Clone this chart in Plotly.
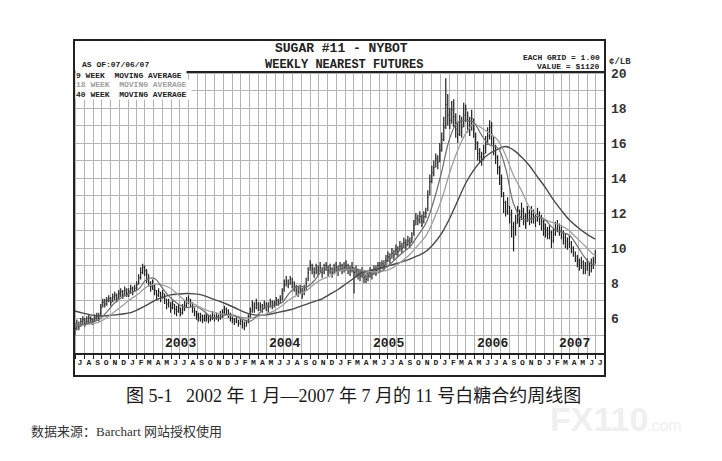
import pandas as pd
import plotly.graph_objects as go

# weekly bars of sugar #11 nearest futures, first week ends 2002-06-28
FIRST_WEEK = "2002-06-28"
high = [
    5.7, 5.9, 5.8, 6.0, 6.1, 6.0, 6.1, 6.2, 6.1, 6.0,
    6.2, 6.3, 6.3, 6.8, 7.1, 7.1, 7.2, 7.3, 7.2, 7.4,
    7.5, 7.4, 7.6, 7.7, 7.6, 7.8, 7.7, 7.7, 7.9, 7.8,
    7.9, 8.1, 8.5, 8.9, 9.1, 9.0, 8.8, 8.5, 8.1, 8.2,
    7.9, 7.6, 7.7, 7.5, 7.6, 7.4, 7.1, 7.1, 6.9, 7.0,
    6.8, 6.7, 6.8, 6.6, 6.8, 7.0, 7.2, 7.3, 7.1, 6.9,
    6.6, 6.4, 6.3, 6.3, 6.2, 6.2, 6.3, 6.2, 6.2, 6.4,
    6.2, 6.3, 6.2, 6.4, 6.5, 6.7, 6.6, 6.5, 6.3, 6.1,
    6.0, 6.1, 5.9, 6.0, 5.9, 5.8, 5.9, 6.2, 6.6, 7.0,
    6.9, 7.1, 6.9, 6.9, 6.8, 7.0, 6.9, 6.9, 7.1, 7.0,
    7.0, 7.2, 7.1, 7.3, 7.7, 8.2, 8.4, 8.2, 8.4, 8.3,
    8.1, 7.9, 7.8, 7.9, 7.7, 7.9, 8.3, 8.9, 9.3, 9.1,
    8.9, 9.1, 9.0, 9.2, 8.9, 9.1, 9.2, 9.0, 9.1, 8.9,
    9.1, 9.2, 9.0, 9.2, 9.1, 9.2, 9.3, 9.1, 9.0, 9.2,
    8.9, 9.0, 8.8, 8.7, 8.9, 8.6, 8.5, 8.7, 8.9, 8.8,
    9.0, 9.0, 9.2, 9.2, 9.3, 9.3, 9.6, 9.8, 9.7, 10.0,
    9.9, 10.2, 10.1, 10.4, 10.3, 10.6, 10.5, 10.7, 10.6, 10.9,
    11.6, 12.0, 11.9, 12.1, 11.9, 12.1, 12.3, 13.3, 14.2, 14.7,
    15.0, 15.4, 15.3, 16.0, 16.6, 17.5, 19.7, 18.8, 18.0, 18.4,
    18.5, 17.7, 17.2, 17.6, 17.5, 18.3, 18.2, 17.8, 17.5, 17.9,
    17.4, 16.6, 16.1, 15.7, 15.5, 15.9, 16.4, 16.9, 17.3, 17.2,
    16.4, 15.9, 15.3, 14.7, 14.2, 13.2, 12.7, 12.9, 12.4, 12.2,
    11.5, 11.9, 12.4, 12.2, 12.6, 12.3, 12.0, 12.4, 12.2, 12.4,
    12.2, 12.0, 12.3, 12.1, 11.9, 11.6, 11.4, 11.2, 11.3, 11.0,
    11.1, 11.5, 11.6, 11.4, 11.3, 11.0, 10.8, 10.6, 10.7, 10.4,
    10.1, 9.8, 9.6, 9.4, 9.5, 9.3, 9.2, 9.4, 9.2, 9.4, 9.5, 9.9,
]
low = [
    5.0, 5.3, 5.3, 5.5, 5.6, 5.5, 5.6, 5.7, 5.7, 5.6,
    5.8, 5.9, 5.8, 6.1, 6.6, 6.6, 6.7, 6.9, 6.7, 6.9,
    7.0, 6.9, 7.1, 7.2, 7.1, 7.3, 7.2, 7.2, 7.4, 7.3,
    7.5, 7.6, 7.9, 8.2, 8.5, 8.4, 8.0, 7.8, 7.5, 7.6,
    7.3, 7.0, 7.2, 6.9, 7.1, 6.8, 6.5, 6.6, 6.3, 6.5,
    6.2, 6.1, 6.3, 6.1, 6.2, 6.4, 6.6, 6.8, 6.6, 6.3,
    6.1, 5.9, 5.8, 5.8, 5.7, 5.8, 5.8, 5.7, 5.8, 5.9,
    5.8, 5.9, 5.8, 5.9, 6.0, 6.2, 6.2, 6.0, 5.8, 5.7,
    5.6, 5.7, 5.5, 5.6, 5.4, 5.3, 5.5, 5.7, 6.0, 6.3,
    6.3, 6.5, 6.4, 6.4, 6.3, 6.5, 6.4, 6.3, 6.6, 6.5,
    6.6, 6.7, 6.7, 6.8, 7.0, 7.5, 7.8, 7.7, 7.9, 7.7,
    7.5, 7.3, 7.2, 7.4, 7.1, 7.3, 7.6, 8.1, 8.7, 8.5,
    8.3, 8.5, 8.4, 8.6, 8.3, 8.5, 8.7, 8.4, 8.5, 8.3,
    8.5, 8.6, 8.4, 8.7, 8.5, 8.6, 8.7, 8.5, 8.4, 8.6,
    7.4, 8.4, 8.2, 8.1, 8.3, 8.0, 8.0, 8.1, 8.3, 8.2,
    8.5, 8.4, 8.7, 8.6, 8.8, 8.7, 9.0, 9.2, 9.1, 9.4,
    9.3, 9.6, 9.5, 9.8, 9.7, 10.0, 9.9, 10.1, 10.0, 10.3,
    10.7, 11.3, 11.3, 11.4, 11.2, 11.4, 11.7, 12.1, 13.0, 13.7,
    14.1, 14.6, 14.5, 14.9, 15.5, 16.1, 16.8, 17.0, 16.8, 17.1,
    16.9, 16.3, 16.0, 16.4, 16.3, 16.9, 17.2, 16.6, 16.4, 16.7,
    16.3, 15.6, 15.0, 14.9, 14.7, 15.0, 15.4, 15.9, 16.2, 15.9,
    15.3, 14.8, 14.2, 13.6, 12.9, 12.0, 11.8, 11.9, 11.4, 10.6,
    9.8, 10.7, 11.4, 11.2, 11.6, 11.3, 11.1, 11.5, 11.3, 11.4,
    11.4, 11.2, 11.5, 11.3, 11.0, 10.7, 10.6, 10.5, 10.5, 10.0,
    10.3, 10.7, 10.9, 10.7, 10.5, 10.2, 10.0, 9.9, 10.0, 9.7,
    9.5, 9.2, 8.9, 8.7, 8.8, 8.5, 8.5, 8.7, 8.4, 8.6, 8.8, 9.1,
]
close = [
    5.4, 5.6, 5.5, 5.8, 5.9, 5.7, 5.8, 6.0, 5.9, 5.8,
    6.0, 6.1, 6.0, 6.6, 6.9, 6.8, 7.0, 7.1, 6.9, 7.2,
    7.3, 7.1, 7.4, 7.5, 7.3, 7.6, 7.4, 7.5, 7.7, 7.5,
    7.7, 7.9, 8.3, 8.6, 8.9, 8.7, 8.5, 8.0, 7.8, 7.9,
    7.6, 7.3, 7.5, 7.2, 7.4, 7.1, 6.8, 6.9, 6.6, 6.8,
    6.5, 6.4, 6.6, 6.3, 6.5, 6.7, 6.9, 7.1, 6.9, 6.6,
    6.4, 6.2, 6.0, 6.1, 5.9, 6.0, 6.1, 5.9, 6.0, 6.2,
    6.0, 6.1, 6.0, 6.2, 6.3, 6.5, 6.4, 6.3, 6.0, 5.9,
    5.8, 5.9, 5.7, 5.8, 5.6, 5.5, 5.7, 6.0, 6.4, 6.7,
    6.6, 6.8, 6.6, 6.7, 6.5, 6.8, 6.7, 6.6, 6.9, 6.7,
    6.8, 7.0, 6.9, 7.1, 7.4, 7.9, 8.1, 7.9, 8.2, 8.0,
    7.8, 7.6, 7.5, 7.7, 7.4, 7.6, 8.0, 8.6, 9.0, 8.8,
    8.6, 8.8, 8.7, 8.9, 8.6, 8.8, 9.0, 8.7, 8.8, 8.6,
    8.8, 8.9, 8.7, 9.0, 8.8, 8.9, 9.0, 8.8, 8.7, 8.9,
    8.6, 8.7, 8.5, 8.4, 8.6, 8.3, 8.2, 8.4, 8.6, 8.5,
    8.8, 8.7, 9.0, 8.9, 9.1, 9.0, 9.3, 9.5, 9.4, 9.7,
    9.6, 9.9, 9.8, 10.1, 10.0, 10.3, 10.2, 10.4, 10.3, 10.6,
    11.3, 11.7, 11.6, 11.8, 11.5, 11.8, 12.0, 12.9, 13.8, 14.3,
    14.6, 15.1, 14.9, 15.6, 16.2, 16.9, 18.2, 17.6, 17.3, 17.9,
    17.5, 16.8, 16.5, 17.2, 16.9, 17.6, 17.9, 17.3, 17.0, 17.4,
    16.8, 16.0, 15.4, 15.2, 15.0, 15.4, 15.9, 16.4, 16.9, 16.5,
    15.8, 15.2, 14.6, 14.0, 13.4, 12.6, 12.1, 12.4, 11.9, 11.2,
    10.6, 11.4, 11.9, 11.6, 12.1, 11.8, 11.5, 12.0, 11.7, 11.9,
    11.8, 11.6, 11.9, 11.7, 11.5, 11.1, 11.0, 10.8, 10.9, 10.4,
    10.8, 11.1, 11.3, 11.0, 10.9, 10.6, 10.4, 10.2, 10.3, 10.0,
    9.8, 9.5, 9.3, 9.0, 9.2, 8.9, 8.8, 9.1, 8.7, 9.0, 9.2, 9.6,
]

# moving average lines every 4 weeks (week index)
ma_weeks = list(range(0, 261, 4)) + [261]
ma9 = [
    5.6, 5.62, 5.73, 5.91, 6.34, 6.87, 7.2, 7.42, 7.66, 8.2,
    8.26, 7.69, 7.16, 6.79, 6.59, 6.67, 6.46, 6.07, 6.02, 6.19,
    6.16, 5.93, 5.82, 6.21, 6.64, 6.7, 6.9, 7.48, 7.82, 7.76,
    8.13, 8.67, 8.77, 8.77, 8.83, 8.82, 8.69, 8.48, 8.57, 8.88,
    9.28, 9.7, 10.07, 10.71, 11.4, 12.7, 14.38, 16.27, 17.21, 17.29,
    17.18, 16.44, 15.89, 15.74, 14.57, 12.53, 11.69, 11.62, 11.81, 11.58,
    11.12, 10.91, 10.73, 10.11, 9.42, 9.02, 9.06,
]
ma18 = [
    5.6, 5.6, 5.67, 5.76, 6.02, 6.37, 6.72, 7.08, 7.39, 7.78,
    7.93, 7.88, 7.70, 7.31, 6.94, 6.78, 6.55, 6.36, 6.27, 6.18,
    6.10, 6.04, 5.99, 6.10, 6.24, 6.41, 6.72, 7.08, 7.34, 7.55,
    7.93, 8.22, 8.40, 8.65, 8.79, 8.80, 8.75, 8.65, 8.65, 8.71,
    8.91, 9.25, 9.63, 10.15, 10.69, 11.63, 12.8, 14.32, 15.59, 16.54,
    17.08, 16.86, 16.55, 16.18, 15.3, 14.15, 13.28, 12.33, 11.86, 11.61,
    11.44, 11.27, 10.98, 10.54, 10.1, 9.64, 9.6,
]
ma40 = [
    6.4, 6.28, 6.18, 6.12, 6.13, 6.18, 6.23, 6.31, 6.5, 6.73,
    7.0, 7.18, 7.32, 7.37, 7.4, 7.38, 7.31, 7.14, 6.98, 6.8,
    6.6, 6.38, 6.22, 6.16, 6.18, 6.27, 6.37, 6.47, 6.62, 6.78,
    6.94, 7.1, 7.37, 7.63, 7.96, 8.28, 8.6, 8.71, 8.81, 8.94,
    9.07, 9.21, 9.37, 9.56, 9.8, 10.24, 10.85, 11.7, 12.7, 13.7,
    14.45, 15.02, 15.4, 15.64, 15.8, 15.6, 15.2, 14.7, 14.07, 13.45,
    12.75, 12.15, 11.6, 11.2, 10.85, 10.57, 10.52,
]

MONTH_LETTERS = "JFMAMJJASOND"
years = ["2003", "2004", "2005", "2006", "2007"]
price_ticks = [6, 8, 10, 12, 14, 16, 18, 20]
x_start, x_end = "2002-06-25", "2007-08-02"

weeks = pd.date_range(FIRST_WEEK, periods=len(close), freq="7D")
ma_dates = [weeks[i] for i in ma_weeks]

# bar segments (high-low line + close tick on the right)
bx, by, cx, cy = [], [], [], []
for d, h, l, c in zip(weeks, high, low, close):
    bx += [d, d, None]
    by += [l, h, None]
    cx += [d, d + pd.Timedelta(days=3), None]
    cy += [c, c, None]

# pixel helpers for things outside the plot area (plot: x 66-597, y 64-345)
def px_x(x):
    return (x - 66) / 531

def px_y(y):
    return (345 - y) / 281

MONO = "Liberation Mono, DejaVu Sans Mono, monospace"
INK = "#222222"

fig = go.Figure()
fig.add_trace(go.Scatter(x=bx, y=by, mode="lines", line=dict(color=INK, width=1.2),
                         hoverinfo="skip", showlegend=False))
fig.add_trace(go.Scatter(x=cx, y=cy, mode="lines", line=dict(color=INK, width=1),
                         hoverinfo="skip", showlegend=False))
fig.add_trace(go.Scatter(x=ma_dates, y=ma40, mode="lines", line=dict(color="#4a4a4a", width=1.4, shape="spline"),
                         name="40 WEEK MOVING AVERAGE", showlegend=False))
fig.add_trace(go.Scatter(x=ma_dates, y=ma18, mode="lines", line=dict(color="#a0a0a0", width=1.3, shape="spline"),
                         name="18 WEEK MOVING AVERAGE", showlegend=False))
fig.add_trace(go.Scatter(x=ma_dates, y=ma9, mode="lines", line=dict(color="#6e6e6e", width=1.2, shape="spline"),
                         name="9 WEEK MOVING AVERAGE", showlegend=False))

months = pd.date_range("2002-07-01", "2007-07-01", freq="MS")
month_mid = [m + pd.Timedelta(days=15) for m in months]
month_text = [MONTH_LETTERS[m.month - 1] for m in months]

GRID = "#b4b4b4"
fig.update_xaxes(
    type="date", range=[x_start, x_end],
    tickmode="array", tickvals=month_mid, ticktext=month_text, ticks="",
    tickfont=dict(family=MONO, size=8, color=INK, weight="bold"),
    showgrid=False, zeroline=False,
    showline=True, linecolor=INK, linewidth=2,
    minor=dict(tickmode="linear", tick0="2002-07-01", dtick="M1", ticks="outside",
               ticklen=4, tickcolor=INK, showgrid=True, gridcolor=GRID, gridwidth=1),
)
fig.update_yaxes(
    range=[4, 20.06], side="right",
    tickmode="array", tickvals=price_ticks, ticktext=[str(v) for v in price_ticks],
    ticks="", ticklabelstandoff=5,
    tickfont=dict(family=MONO, size=13, color="#333333", weight="bold"),
    showgrid=True, gridcolor=GRID, gridwidth=1, zeroline=False,
    minor=dict(tickmode="linear", tick0=0, dtick=1, showgrid=True, gridcolor=GRID, gridwidth=1),
)

# year labels centred on the part of each year that is shown
year_x = []
for y in years:
    a = max(pd.Timestamp(f"{y}-01-01"), pd.Timestamp(x_start))
    b = min(pd.Timestamp(f"{int(y) + 1}-01-01"), pd.Timestamp(x_end))
    year_x.append(a + (b - a) / 2)
for yx, y in zip(year_x, years):
    fig.add_annotation(x=yx, y=4, xref="x", yref="y", text=y, showarrow=False,
                       yanchor="bottom", yshift=0,
                       font=dict(family=MONO, size=13, color=INK, weight="bold"))

# outer frame and header separator
fig.add_shape(type="rect", xref="paper", yref="paper", x0=0, x1=1, y0=px_y(368), y1=px_y(32),
              line=dict(color=INK, width=2))
fig.add_shape(type="line", xref="paper", yref="paper", x0=0, x1=1, y0=1, y1=1,
              line=dict(color=INK, width=2))

def note(text, x, y, size, anchor="center", color=INK, weight="bold", family=MONO, bg=None):
    fig.add_annotation(x=x, y=y, xref="paper", yref="paper", text=text, showarrow=False,
                       xanchor=anchor, yanchor="middle", bgcolor=bg, borderpad=0,
                       font=dict(family=family, size=size, color=color, weight=weight))

note("SUGAR #11 - NYBOT", px_x(333), px_y(41), 13)
note("WEEKLY NEAREST FUTURES", px_x(336), px_y(57), 12)
note("AS OF:07/06/07", px_x(73), px_y(57), 8, anchor="left")
note("EACH GRID = 1.00", px_x(593), px_y(49), 8, anchor="right")
note("VALUE = $1120", px_x(593), px_y(58), 8, anchor="right")
note("¢/LB", px_x(600), px_y(54), 9, anchor="left", color="#333333")

note("9 WEEK  MOVING AVERAGE ", px_x(67), px_y(68), 8, anchor="left", bg="white")
note("18 WEEK  MOVING AVERAGE ", px_x(67), px_y(77), 8, anchor="left", color="#a0a0a0", bg="white")
note("40 WEEK  MOVING AVERAGE ", px_x(67), px_y(86), 8, anchor="left", bg="white")

CJK = "Liberation Serif, Noto Sans CJK SC, sans-serif"
note("图 5-1   2002 年 1 月—2007 年 7 月的 11 号白糖合约周线图", px_x(345), px_y(388), 18,
     color="#1a1a1a", weight="normal", family=CJK)
note("数据来源：Barchart 网站授权使用", px_x(22), px_y(423), 13, anchor="left",
     color="#333333", weight="normal", family=CJK)
note("FX110", px_x(541), px_y(411), 34, anchor="left", color="#efefef",
     family="Liberation Sans, sans-serif")
note(".com", px_x(638), px_y(417), 16, anchor="left", color="#efefef", weight="normal",
     family="Liberation Sans, sans-serif")

fig.update_layout(
    width=722, height=461,
    margin=dict(l=66, r=125, t=64, b=116),
    paper_bgcolor="white", plot_bgcolor="white",
    showlegend=False,
)

fig.write_html("out.html")
